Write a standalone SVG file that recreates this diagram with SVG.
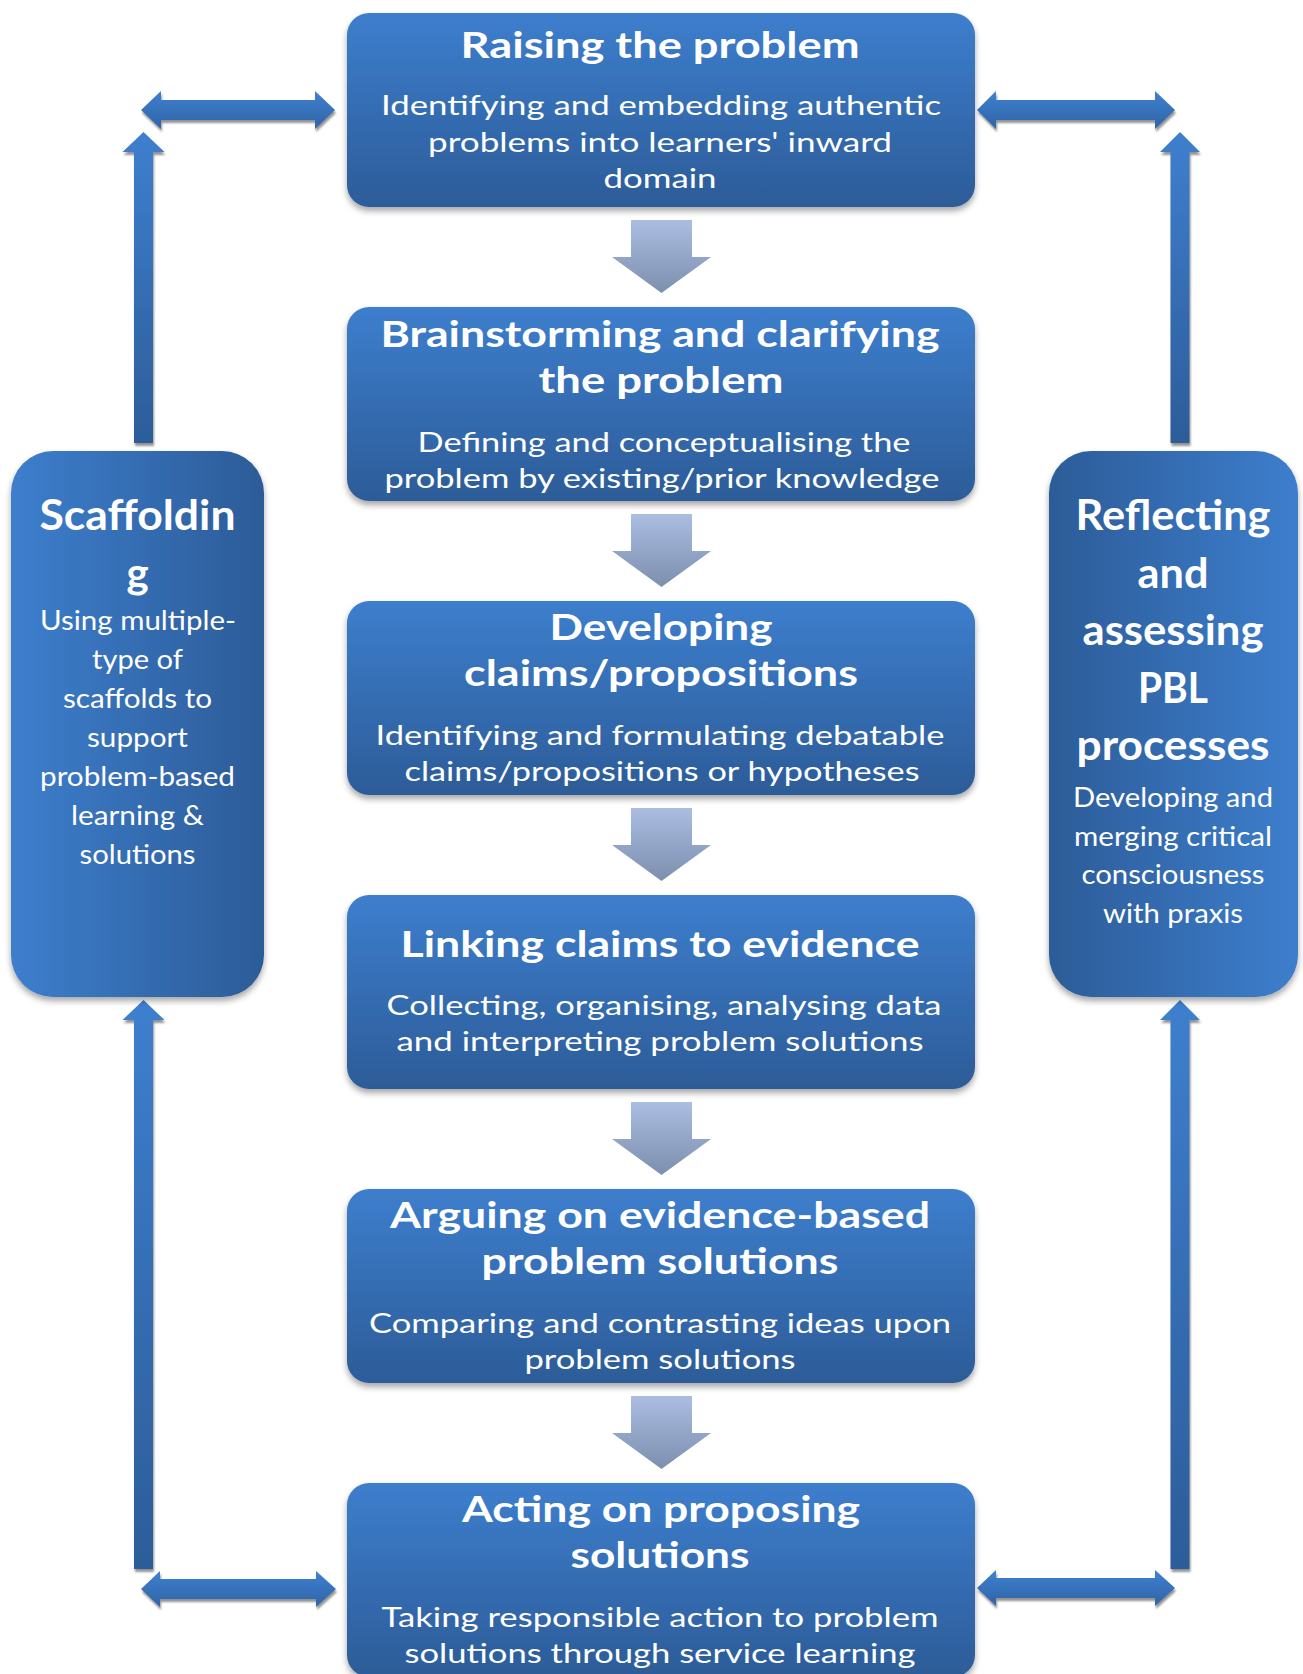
<svg xmlns="http://www.w3.org/2000/svg" width="1303" height="1674" viewBox="0 0 1303 1674">
<defs>
<linearGradient id="gBox" x1="0" y1="0" x2="0" y2="1">
<stop offset="0" stop-color="#3d7ecd"/><stop offset="1" stop-color="#2c5c98"/>
</linearGradient>
<linearGradient id="gSideL" x1="0" y1="0" x2="1" y2="0">
<stop offset="0" stop-color="#3d7ecd"/><stop offset="1" stop-color="#2c5c98"/>
</linearGradient>
<linearGradient id="gSideR" x1="0" y1="0" x2="1" y2="0">
<stop offset="0" stop-color="#2c5c98"/><stop offset="1" stop-color="#3d7ecd"/>
</linearGradient>
<linearGradient id="gDown" x1="0" y1="0" x2="0" y2="1">
<stop offset="0" stop-color="#abbde1"/><stop offset="1" stop-color="#7d8fae"/>
</linearGradient>
<linearGradient id="gH" x1="0" y1="0" x2="0" y2="1">
<stop offset="0" stop-color="#3f80d0"/><stop offset="1" stop-color="#2f64a6"/>
</linearGradient>
<linearGradient id="gV" x1="0" y1="0" x2="0" y2="1">
<stop offset="0" stop-color="#3e7fcf"/><stop offset="1" stop-color="#2c5d99"/>
</linearGradient>
<filter id="shBox" x="-10%" y="-10%" width="120%" height="130%">
<feDropShadow dx="0" dy="4" stdDeviation="3" flood-color="#000" flood-opacity="0.35"/>
</filter>
<filter id="shArr" x="-10%" y="-10%" width="120%" height="130%">
<feDropShadow dx="1" dy="3" stdDeviation="0.8" flood-color="#808080" flood-opacity="0.85"/>
</filter>
</defs>
<style>
.box{fill:url(#gBox);filter:url(#shBox)}
.t{font-family:Lato,"Open Sans",sans-serif;font-weight:700;font-size:37px;fill:#fff;text-anchor:middle}
.b{font-family:Lato,"Open Sans",sans-serif;font-weight:400;font-size:27px;fill:#fff;text-anchor:middle}
.st{font-family:Lato,"Open Sans",sans-serif;font-weight:700;font-size:42px;fill:#fff;text-anchor:middle}
.sb{font-family:Lato,"Open Sans",sans-serif;font-weight:400;font-size:26px;fill:#fff;text-anchor:middle}
.down{fill:url(#gDown)}
.ha{fill:url(#gH);filter:url(#shArr)}
.va{fill:url(#gV);filter:url(#shArr)}
</style>
<rect width="1303" height="1674" fill="#fff"/>

<g id="connectors">
<path class="down" d="M631,220 L692,220 L692,257 L711,257 L661.5,293 L612,257 L631,257 Z"/>
<path class="down" d="M631,514 L692,514 L692,551 L711,551 L661.5,587 L612,551 L631,551 Z"/>
<path class="down" d="M631,808 L692,808 L692,845 L711,845 L661.5,881 L612,845 L631,845 Z"/>
<path class="down" d="M631,1102 L692,1102 L692,1139 L711,1139 L661.5,1175 L612,1139 L631,1139 Z"/>
<path class="down" d="M631,1396 L692,1396 L692,1433 L711,1433 L661.5,1469 L612,1433 L631,1433 Z"/>
<path class="ha" d="M141,110 L161,91 L161,100 L315,100 L315,91 L335,110 L315,129 L315,120 L161,120 L161,129 Z"/>
<path class="ha" d="M977,110 L996,91 L996,100 L1155,100 L1155,91 L1175,110 L1155,129 L1155,120 L996,120 L996,129 Z"/>
<path class="ha" d="M141,1589 L160,1571 L160,1579 L316,1579 L316,1571 L336,1589 L316,1607 L316,1599 L160,1599 L160,1607 Z"/>
<path class="ha" d="M977,1588 L996,1570 L996,1578 L1155,1578 L1155,1570 L1175,1588 L1155,1606 L1155,1598 L996,1598 L996,1606 Z"/>
<path class="va" d="M143.5,132 L164.5,152 L153,152 L153,443 L134,443 L134,152 L122.5,152 Z"/>
<path class="va" d="M143.5,1000 L164.5,1020 L153,1020 L153,1569 L134,1569 L134,1020 L122.5,1020 Z"/>
<path class="va" d="M1180,132 L1200,152 L1189.5,152 L1189.5,443 L1170.5,443 L1170.5,152 L1160,152 Z"/>
<path class="va" d="M1180,1000 L1200,1020 L1189.5,1020 L1189.5,1569 L1170.5,1569 L1170.5,1020 L1160,1020 Z"/>
</g>

<g id="raising">
<rect class="box" x="347" y="13" width="628" height="194" rx="22"/>
<text class="t" x="660" y="58" textLength="399" lengthAdjust="spacingAndGlyphs">Raising the problem</text>
<text class="b" x="661" y="115" textLength="560" lengthAdjust="spacingAndGlyphs">Identifying and embedding authentic</text>
<text class="b" x="660" y="152" textLength="464" lengthAdjust="spacingAndGlyphs">problems into learners' inward</text>
<text class="b" x="660" y="188" textLength="113" lengthAdjust="spacingAndGlyphs">domain</text>
</g>

<g id="brainstorming">
<rect class="box" x="347" y="307" width="628" height="194" rx="22"/>
<text class="t" x="660" y="347" textLength="559" lengthAdjust="spacingAndGlyphs">Brainstorming and clarifying</text>
<text class="t" x="661" y="393" textLength="245" lengthAdjust="spacingAndGlyphs">the problem</text>
<text class="b" x="664" y="452" textLength="493" lengthAdjust="spacingAndGlyphs">Defining and conceptualising the</text>
<text class="b" x="662" y="488" textLength="555" lengthAdjust="spacingAndGlyphs">problem by existing/prior knowledge</text>
</g>

<g id="developing">
<rect class="box" x="347" y="601" width="628" height="194" rx="22"/>
<text class="t" x="661" y="640" textLength="223" lengthAdjust="spacingAndGlyphs">Developing</text>
<text class="t" x="661" y="686" textLength="394" lengthAdjust="spacingAndGlyphs">claims/propositions</text>
<text class="b" x="660" y="745" textLength="569" lengthAdjust="spacingAndGlyphs">Identifying and formulating debatable</text>
<text class="b" x="662" y="781" textLength="515" lengthAdjust="spacingAndGlyphs">claims/propositions or hypotheses</text>
</g>

<g id="linking">
<rect class="box" x="347" y="895" width="628" height="194" rx="22"/>
<text class="t" x="660" y="957" textLength="519" lengthAdjust="spacingAndGlyphs">Linking claims to evidence</text>
<text class="b" x="664" y="1015" textLength="555" lengthAdjust="spacingAndGlyphs">Collecting, organising, analysing data</text>
<text class="b" x="660" y="1051" textLength="527" lengthAdjust="spacingAndGlyphs">and interpreting problem solutions</text>
</g>

<g id="arguing">
<rect class="box" x="347" y="1189" width="628" height="194" rx="22"/>
<text class="t" x="660" y="1228" textLength="540" lengthAdjust="spacingAndGlyphs">Arguing on evidence-based</text>
<text class="t" x="660" y="1274" textLength="357" lengthAdjust="spacingAndGlyphs">problem solutions</text>
<text class="b" x="660" y="1333" textLength="582" lengthAdjust="spacingAndGlyphs">Comparing and contrasting ideas upon</text>
<text class="b" x="660" y="1369" textLength="271" lengthAdjust="spacingAndGlyphs">problem solutions</text>
</g>

<g id="acting">
<rect class="box" x="347" y="1483" width="628" height="194" rx="22"/>
<text class="t" x="661" y="1522" textLength="398" lengthAdjust="spacingAndGlyphs">Acting on proposing</text>
<text class="t" x="660" y="1568" textLength="179" lengthAdjust="spacingAndGlyphs">solutions</text>
<text class="b" x="660" y="1627" textLength="557" lengthAdjust="spacingAndGlyphs">Taking responsible action to problem</text>
<text class="b" x="660" y="1663" textLength="511" lengthAdjust="spacingAndGlyphs">solutions through service learning</text>
</g>

<g id="scaffolding">
<rect x="11" y="451" width="253" height="546" rx="42" fill="url(#gSideL)" filter="url(#shBox)"/>
<text class="st" x="137.5" y="530" textLength="196" lengthAdjust="spacingAndGlyphs">Scaffoldin</text>
<text class="st" x="137.5" y="588">g</text>
<text class="sb" x="138" y="630" textLength="196" lengthAdjust="spacingAndGlyphs">Using multiple-</text>
<text class="sb" x="137.5" y="669" textLength="91" lengthAdjust="spacingAndGlyphs">type of</text>
<text class="sb" x="137.5" y="708" textLength="149" lengthAdjust="spacingAndGlyphs">scaffolds to</text>
<text class="sb" x="137.5" y="747" textLength="101" lengthAdjust="spacingAndGlyphs">support</text>
<text class="sb" x="137.5" y="786" textLength="195" lengthAdjust="spacingAndGlyphs">problem-based</text>
<text class="sb" x="137.5" y="825" textLength="133" lengthAdjust="spacingAndGlyphs">learning &amp;</text>
<text class="sb" x="137.5" y="864" textLength="116" lengthAdjust="spacingAndGlyphs">solutions</text>
</g>

<g id="reflecting">
<rect x="1049" y="451" width="249" height="546" rx="42" fill="url(#gSideR)" filter="url(#shBox)"/>
<text class="st" x="1173" y="530" textLength="195" lengthAdjust="spacingAndGlyphs">Reflecting</text>
<text class="st" x="1173" y="588" textLength="71" lengthAdjust="spacingAndGlyphs">and</text>
<text class="st" x="1173" y="645" textLength="181" lengthAdjust="spacingAndGlyphs">assessing</text>
<text class="st" x="1173" y="703" textLength="70" lengthAdjust="spacingAndGlyphs">PBL</text>
<text class="st" x="1173" y="760" textLength="193" lengthAdjust="spacingAndGlyphs">processes</text>
<text class="sb" x="1173" y="807" textLength="200" lengthAdjust="spacingAndGlyphs">Developing and</text>
<text class="sb" x="1173" y="846" textLength="198" lengthAdjust="spacingAndGlyphs">merging critical</text>
<text class="sb" x="1173" y="884" textLength="183" lengthAdjust="spacingAndGlyphs">consciousness</text>
<text class="sb" x="1173" y="923" textLength="140" lengthAdjust="spacingAndGlyphs">with praxis</text>
</g>
</svg>
